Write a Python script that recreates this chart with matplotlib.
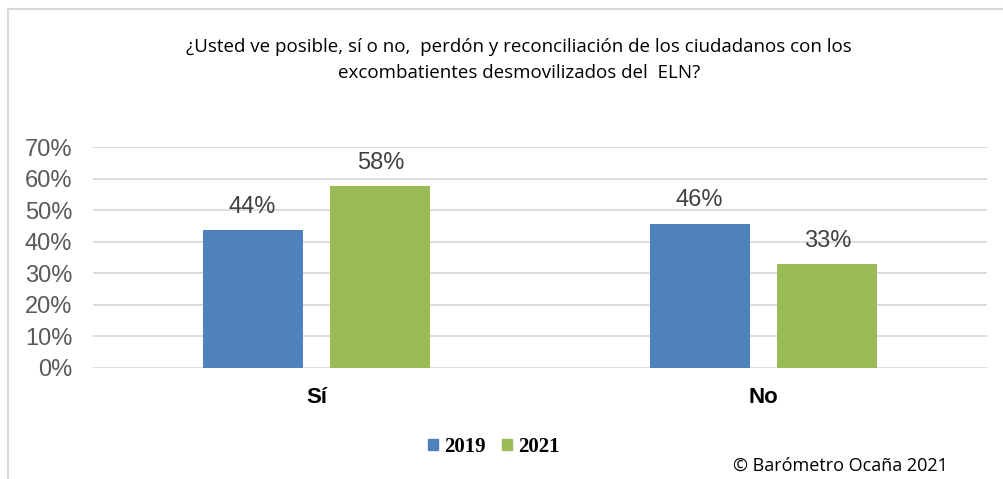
import numpy as np
import matplotlib.pyplot as plt
from matplotlib.patches import Rectangle, Patch

# Datos
categorias = ['Sí', 'No']
anios = ['2019', '2021']
valores_2019 = [0.436, 0.457]
valores_2021 = [0.576, 0.328]
etiquetas_y = ['0%', '10%', '20%', '30%', '40%', '50%', '60%', '70%']

azul = '#4F81BD'
verde = '#9BBB59'

W, H = 1004, 479
fig = plt.figure(figsize=(W / 100, H / 100), dpi=100)

# marco gris del grafico (cortado a la derecha y abajo)
fig.patches.append(Rectangle((8 / W, -0.1), 1.2, 1 - 9 / H + 0.1, transform=fig.transFigure,
                             fill=False, edgecolor='#D9D9D9', linewidth=1.5))

ax = fig.add_axes([93 / W, 1 - 368 / H, (987 - 93) / W, (368 - 147) / H])

x = np.arange(len(categorias))
ancho = 0.224
desp = 0.143
b1 = ax.bar(x - desp, valores_2019, ancho, color=azul, zorder=3)
b2 = ax.bar(x + desp, valores_2021, ancho, color=verde, zorder=3)

for barras in (b1, b2):
    ax.bar_label(barras, labels=[f'{v * 100:.0f}%' for v in barras.datavalues],
                 padding=9, fontsize=17, color='#404040', family='Liberation Sans')

ax.set_xlim(-0.5, 1.5)
ax.set_ylim(0, 0.7)
ax.set_yticks(np.arange(0, 0.71, 0.1))
ax.set_yticklabels(etiquetas_y, fontsize=17, color='#595959', family='Liberation Sans')
ax.set_xticks(x)
ax.set_xticklabels(categorias, fontsize=16, fontweight='bold', family='Liberation Sans')
ax.tick_params(axis='both', length=0)
ax.tick_params(axis='y', pad=15)
ax.tick_params(axis='x', pad=14)
ax.grid(axis='y', color='#D9D9D9', linewidth=1.3, zorder=0)
for s in ax.spines.values():
    s.set_visible(False)

fig.text(519 / W, 1 - 47 / H,
         '¿Usted ve posible, sí o no,  perdón y reconciliación de los ciudadanos con los',
         ha='center', va='center', fontsize=13.5, family='Open Sans', color='#000000')
fig.text(519 / W, 1 - 73 / H, 'excombatientes desmovilizados del  ELN?',
         ha='center', va='center', fontsize=13.5, family='Open Sans', color='#000000')

handles = [Patch(color=azul), Patch(color=verde)]
fig.legend(handles, anios, loc='center', bbox_to_anchor=(494 / W, 1 - 447 / H), ncol=2,
           frameon=False, handlelength=0.45, handleheight=0.45, handletextpad=0.3,
           columnspacing=0.8, prop={'family': 'Liberation Serif', 'weight': 'bold', 'size': 15})

fig.text(840 / W, 1 - 466 / H, '© Barómetro Ocaña 2021', ha='center', va='center',
         fontsize=13, family='Open Sans', color='#000000')

fig.savefig('out.png', dpi=100)
